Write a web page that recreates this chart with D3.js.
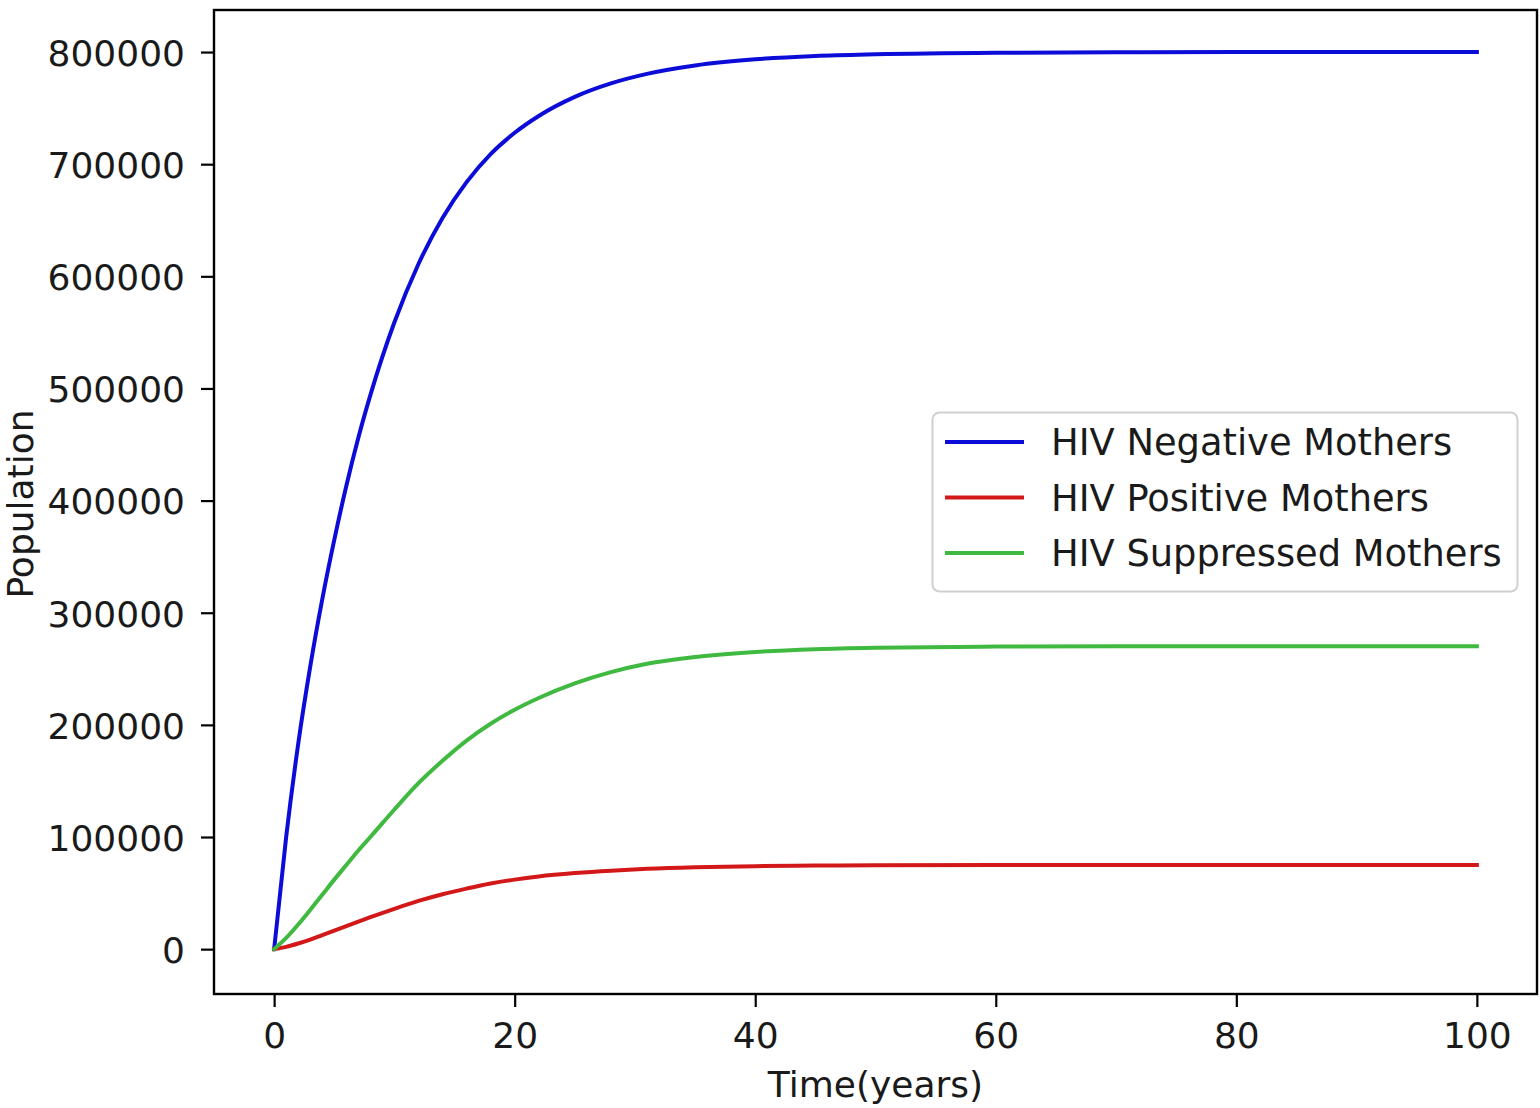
<!DOCTYPE html>
<html>
<head>
<meta charset="utf-8">
<script src="https://cdn.jsdelivr.net/npm/d3@7"></script>
<style>
  html, body { margin: 0; padding: 0; background: #fff; }
  svg { display: block; }
  text { font-family: "DejaVu Sans", sans-serif; fill: #1a1a1a; }
</style>
</head>
<body>
<svg id="chart" width="1540" height="1108"></svg>
<script>
// Time points (years) of the model output
const years = [0, 1, 2, 3, 4, 5, 6, 7, 8, 10, 12, 14, 16, 18, 20, 22, 25, 28, 31, 35, 40, 45, 50, 60, 70, 80, 90, 100];

// Population of each compartment at those times
const negativeMothers = [0, 100000, 183000, 252000, 312000, 365000, 413000, 456000, 494000, 559000, 611000, 652000, 684000, 709000, 728000, 743000, 760000, 772000, 780500, 788000, 793500, 796500, 798000, 799400, 799800, 800000, 800000, 800000];
const positiveMothers = [0, 2000, 5000, 8500, 12500, 16500, 20500, 24500, 28500, 36000, 43000, 49000, 54000, 58500, 62000, 64800, 67800, 70000, 71600, 73000, 74000, 74500, 74800, 75000, 75000, 75000, 75000, 75000];
const suppressedMothers = [0, 10000, 22000, 35000, 48500, 62000, 75000, 88000, 100000, 124500, 148000, 168000, 186000, 201000, 213500, 224000, 237000, 247000, 254500, 260500, 265000, 267500, 268800, 269800, 270100, 270200, 270200, 270200];

const seriesNames = ["HIV Negative Mothers", "HIV Positive Mothers", "HIV Suppressed Mothers"];
const seriesColors = ["#0c0cd8", "#d21818", "#40b940"];
const xTicks = [0, 20, 40, 60, 80, 100];
const yTicks = [0, 100000, 200000, 300000, 400000, 500000, 600000, 700000, 800000];

const series = [negativeMothers, positiveMothers, suppressedMothers].map((vals, i) => ({
  name: seriesNames[i],
  color: seriesColors[i],
  points: years.map((t, j) => [t, vals[j]])
}));

const plot = { left: 214, right: 1537, top: 10, bottom: 994 };
const fontSize = 36;

const svg = d3.select("#chart");

const x = d3.scaleLinear().domain([-5, 105]).range([plot.left, plot.right]);
const y = d3.scaleLinear().domain([-40000, 837500]).range([plot.bottom, plot.top]);

// Curves
const line = d3.line()
  .x(d => x(d[0]))
  .y(d => y(d[1]))
  .curve(d3.curveMonotoneX);

svg.append("g")
  .selectAll("path")
  .data(series)
  .join("path")
  .attr("d", d => line(d.points))
  .attr("fill", "none")
  .attr("stroke", d => d.color)
  .attr("stroke-width", 4)
  .attr("stroke-linejoin", "round")
  .attr("stroke-linecap", "square");

// Axes
const xAxis = svg.append("g")
  .attr("transform", `translate(0,${plot.bottom})`)
  .call(d3.axisBottom(x).tickValues(xTicks).tickSize(13).tickPadding(15).tickFormat(d3.format("d")));

const yAxis = svg.append("g")
  .attr("transform", `translate(${plot.left},0)`)
  .call(d3.axisLeft(y).tickValues(yTicks).tickSize(13).tickPadding(16).tickFormat(d3.format("d")));

[xAxis, yAxis].forEach(g => {
  g.select(".domain").remove();
  g.selectAll(".tick line").attr("stroke", "#000").attr("stroke-width", 2.2);
  g.selectAll(".tick text")
    .attr("fill", "#1a1a1a")
    .style("font-family", "'DejaVu Sans', sans-serif")
    .style("font-size", fontSize + "px");
});
yAxis.selectAll(".tick text").attr("dy", "0.37em");

// Frame around the plotting area
svg.append("rect")
  .attr("x", plot.left)
  .attr("y", plot.top)
  .attr("width", plot.right - plot.left)
  .attr("height", plot.bottom - plot.top)
  .attr("fill", "none")
  .attr("stroke", "#000")
  .attr("stroke-width", 2.4);

// Axis titles
svg.append("text")
  .attr("x", (plot.left + plot.right) / 2)
  .attr("y", 1097)
  .attr("text-anchor", "middle")
  .style("font-size", fontSize + "px")
  .text("Time(years)");

svg.append("text")
  .attr("transform", `translate(33,${(plot.top + plot.bottom) / 2 + 2}) rotate(-90)`)
  .attr("text-anchor", "middle")
  .style("font-size", fontSize + "px")
  .text("Population");

// Legend
const legend = svg.append("g");
legend.append("rect")
  .attr("x", 932.5)
  .attr("y", 412.5)
  .attr("width", 585)
  .attr("height", 179)
  .attr("rx", 7)
  .attr("fill", "#fff")
  .attr("fill-opacity", 0.85)
  .attr("stroke", "#d0d0d0")
  .attr("stroke-width", 2);

const rows = legend.selectAll("g.row")
  .data(series)
  .join("g")
  .attr("class", "row")
  .attr("transform", (d, i) => `translate(0,${442 + i * 55.5})`);

rows.append("line")
  .attr("x1", 945)
  .attr("x2", 1024)
  .attr("y1", 0)
  .attr("y2", 0)
  .attr("stroke", d => d.color)
  .attr("stroke-width", 4);

rows.append("text")
  .attr("x", 1051)
  .attr("y", 13)
  .style("font-size", "36.8px")
  .text(d => d.name);
</script>
</body>
</html>
